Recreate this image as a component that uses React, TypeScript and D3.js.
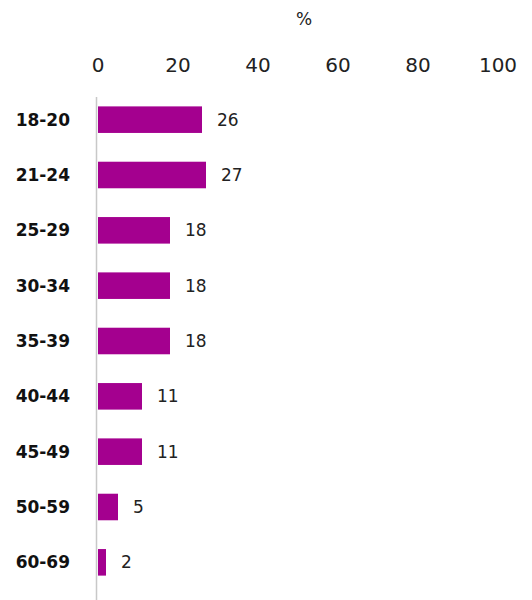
import React from "react";
import * as d3 from "d3";

const categories = ["18-20", "21-24", "25-29", "30-34", "35-39", "40-44", "45-49", "50-59", "60-69"];
const values = [26, 27, 18, 18, 18, 11, 11, 5, 2];
const ticks = [0, 20, 40, 60, 80, 100];
const axisTitle = "%";

export default function App() {
  const W = 532, H = 600;
  const x = d3.scaleLinear().domain([0, 100]).range([98, 498]);
  const y = d3.scaleBand().domain(categories).range([92, 590]).paddingInner(0.52).paddingOuter(0.26);
  const font = "'DejaVu Sans', sans-serif";
  return (
    <svg width={W} height={H} style={{ position: "absolute", left: 0, top: 0, background: "#fff" }} fontFamily={font}>
      <text x={304} y={25} textAnchor="middle" fontSize={17} fill="#222">{axisTitle}</text>
      {ticks.map(t => (
        <text key={t} x={x(t)} y={72} textAnchor="middle" fontSize={20} fill="#222">{t}</text>
      ))}
      <line x1={x(0) - 1.5} x2={x(0) - 1.5} y1={97} y2={H} stroke="#c8c8c8" strokeWidth={1.5} />
      {categories.map((c, i) => {
        const yc = (y(c) as number) + y.bandwidth() / 2;
        return (
          <g key={c}>
            <rect x={x(0)} y={y(c)} width={x(values[i]) - x(0)} height={y.bandwidth()} fill="#a4008f" />
            <text x={70} y={yc} dy="0.36em" textAnchor="end" fontSize={17} fontWeight="bold" fill="#111">{c}</text>
            <text x={x(values[i]) + 15} y={yc} dy="0.36em" textAnchor="start" fontSize={17} fill="#222">{values[i]}</text>
          </g>
        );
      })}
    </svg>
  );
}
